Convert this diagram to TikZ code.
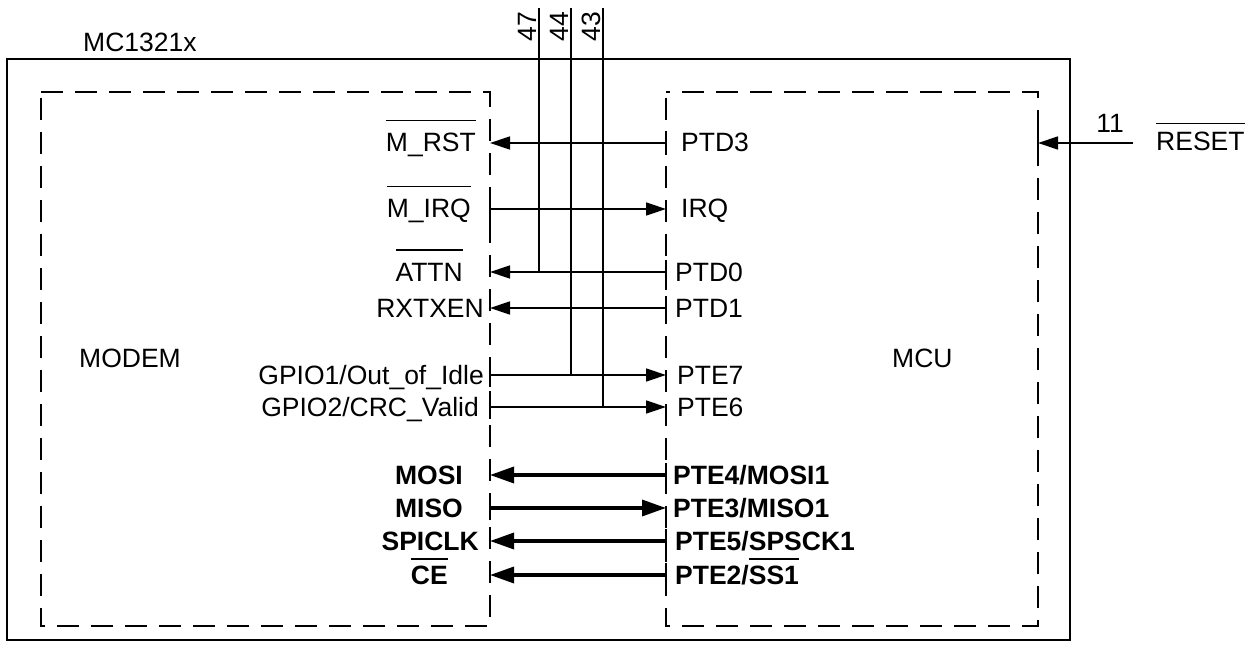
\documentclass[tikz,border=0pt]{standalone}
\usepackage{fontspec}
\setmainfont{Liberation Sans}
\usetikzlibrary{arrows.meta}
\newcommand{\ovl}[2][12pt]{\vbox{\hrule height 1.3pt\kern #1\hbox{#2}}}
\tikzset{
  >=Latex,
  sigline/.style={line width=1.4pt},
  sigarrow/.style={-{Triangle[length=20pt,width=13pt]},line width=1.4pt},
  busarrow/.style={-{Triangle[length=24pt,width=16pt]},line width=3.4pt},
  chip/.style={draw,line width=1.4pt},
  block/.style={draw,line width=1.4pt,dash pattern=on 22pt off 12pt,dash phase=-6pt},
  pintick/.style={line width=1.4pt},
  lbl/.style={inner sep=0pt,font=\fontsize{26.5}{31}\selectfont},
  blbl/.style={lbl,font=\fontsize{26.5}{31}\selectfont\bfseries},
  pinno/.style={lbl,rotate=90,anchor=south east}
}
\begin{document}
\begin{tikzpicture}[x=1pt,y=-1pt]
    \useasboundingbox (0,0) rectangle (1254,658);

    % Chip and blocks
    \draw[chip] (7,59) rectangle (1070,640);
    \draw[block] (41,92) rectangle (490,626);
    \draw[block] (666,92) rectangle (1038,626);
    \node[lbl,anchor=base west] (chipname) at (83,52) {MC1321x};
    \node[lbl,anchor=base west] (modem) at (79,367) {MODEM};
    \node[lbl,anchor=base west] (mcu) at (892,367) {MCU};

    % Pin ends on both blocks
    \foreach \i/\y in {1/143,2/209,3/272,4/308,5/375,6/407,7/475,8/508,9/541,10/575} {
        \coordinate (m\i) at (490,\y);
        \coordinate (u\i) at (666,\y);
    }

    % Modem pin names
    \node[lbl,anchor=base east] (mrst) at (476,152) {\ovl{M\_RST}};
    \node[lbl,anchor=base east] (mirq) at (471,218) {\ovl{M\_IRQ}};
    \node[lbl,anchor=base east] (attn) at (463,281) {\ovl{ATTN}};
    \node[lbl,anchor=base east] (rxtxen) at (484,317) {RXTXEN};
    \node[lbl,anchor=base east] (gpio1) at (484,384) {GPIO1/Out\_of\_Idle};
    \node[lbl,anchor=base east] (gpio2) at (479,416) {GPIO2/CRC\_Valid};
    \node[blbl,anchor=base east] (mosi) at (463,484) {MOSI};
    \node[blbl,anchor=base east] (miso) at (463,517) {MISO};
    \node[blbl,anchor=base east] (spiclk) at (479,550) {SPICLK};
    \node[blbl,anchor=base east] (ce) at (448,584) {\ovl[6pt]{CE}};

    % MCU pin names
    \node[lbl,anchor=base west] (ptd3) at (681,152) {PTD3};
    \node[lbl,anchor=base west] (irq) at (681,218) {IRQ};
    \node[lbl,anchor=base west] (ptd0) at (675,281) {PTD0};
    \node[lbl,anchor=base west] (ptd1) at (675,317) {PTD1};
    \node[lbl,anchor=base west] (pte7) at (677,384) {PTE7};
    \node[lbl,anchor=base west] (pte6) at (677,416) {PTE6};
    \node[blbl,anchor=base west] (pte4) at (673,484) {PTE4/MOSI1};
    \node[blbl,anchor=base west] (pte3) at (673,517) {PTE3/MISO1};
    \node[blbl,anchor=base west] (pte5) at (675,550) {PTE5/SPSCK1};
    \node[blbl,anchor=base west] (pte2) at (675,584) {PTE2/\ovl[6pt]{SS1}};

    % Signals
    \foreach \i in {1,3,4} \draw[sigarrow] (u\i) -- (m\i);
    \foreach \i in {2,5,6} \draw[sigarrow] (m\i) -- (u\i);
    \foreach \i in {7,9,10} \draw[busarrow] (u\i) -- (m\i);
    \draw[busarrow] (m8) -- (u8);
    \foreach \i in {1,3,4,7,9,10} \draw[pintick] ([yshift=-12pt]u\i) -- ([yshift=12pt]u\i);
    \foreach \i in {2,5,6,8} \draw[pintick] ([yshift=-12pt]m\i) -- ([yshift=12pt]m\i);

    % Test pins at the top
    \coordinate (p47) at (539,8);
    \coordinate (p44) at (571,8);
    \coordinate (p43) at (603,8);
    \draw[sigline] (p47) -- (m3 -| p47);
    \draw[sigline] (p44) -- (m5 -| p44);
    \draw[sigline] (p43) -- (m6 -| p43);
    \node[pinno] (n47) at (537,12) {47};
    \node[pinno] (n44) at (569,12) {44};
    \node[pinno] (n43) at (601,12) {43};

    % Reset input
    \coordinate (rstpin) at (1038,143);
    \coordinate (rstin) at (1133,143);
    \draw[sigarrow] (rstin) -- (rstpin);
    \draw[pintick] ([yshift=-12pt]rstpin) -- ([yshift=12pt]rstpin);
    \node[lbl,anchor=base east] (n11) at (1124,133) {11};
    \node[lbl,anchor=base west] (reset) at (1156,151) {\ovl[8pt]{RESET}};
\end{tikzpicture}
\end{document}
